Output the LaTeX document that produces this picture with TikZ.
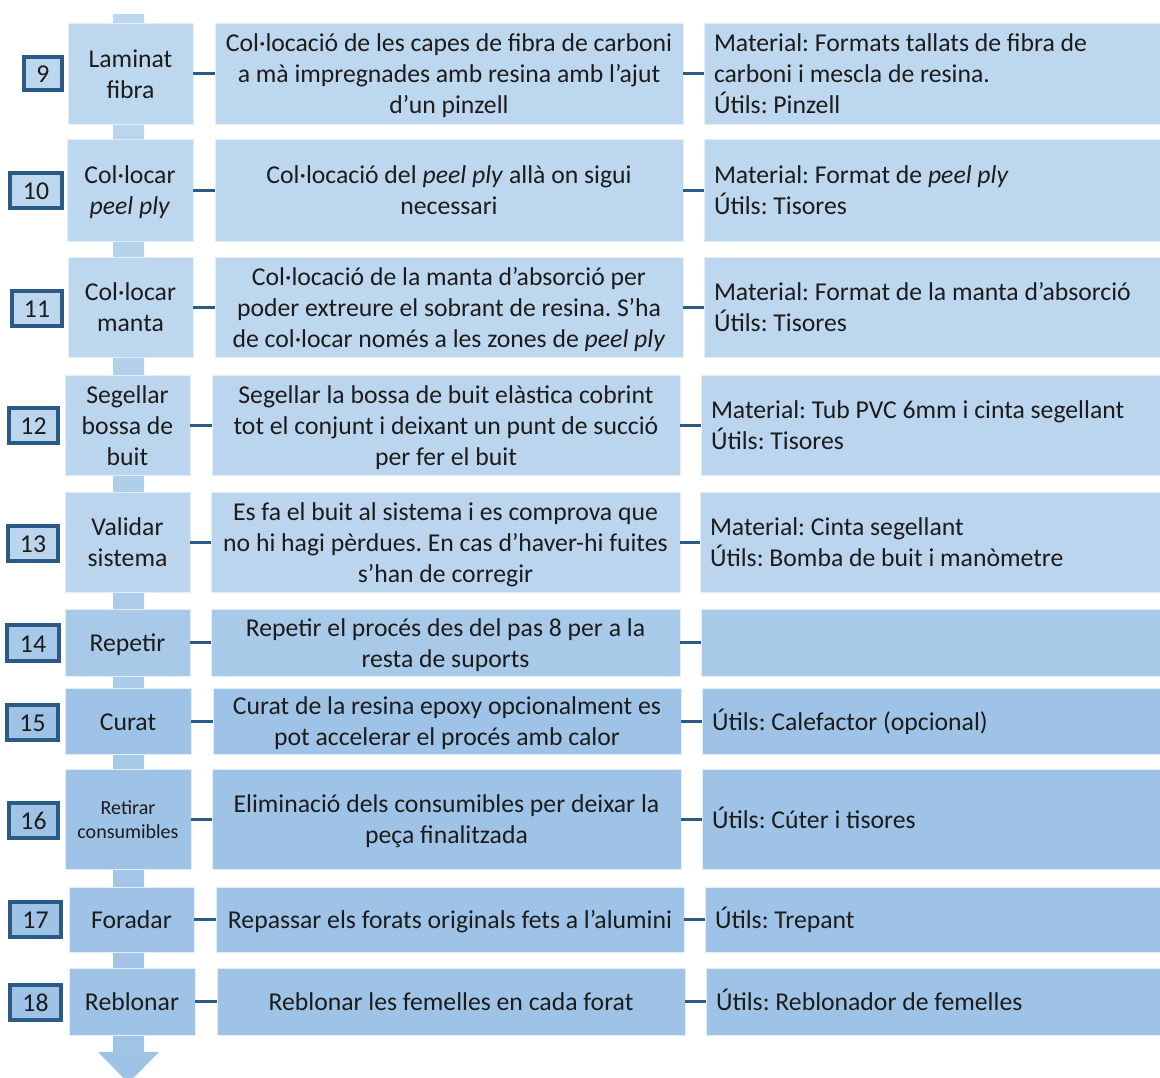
\documentclass[tikz,border=0pt]{standalone}
\usepackage{fontspec}
\setmainfont{Carlito}

\definecolor{rowA}{HTML}{BDD7EE}
\definecolor{rowB}{HTML}{BAD5ED}
\definecolor{rowC}{HTML}{A8CAE8}
\definecolor{rowD}{HTML}{9EC3E6}
\definecolor{boxedge}{HTML}{E3EEF8}
\definecolor{linkblue}{HTML}{2C5A86}
\definecolor{ink}{HTML}{1C1C1C}

\newcommand\procfont{\fontsize{25.7}{31}\selectfont\frenchspacing}
\newcommand\smallprocfont{\fontsize{20}{24}\selectfont\frenchspacing}

% text block set a little lower than its box's centre
\newcommand\textdrop{3pt}
\newcommand\clines[1]{\raisebox{-\textdrop}[\height][\depth]{\begin{tabular}{@{}c@{}}#1\end{tabular}}}
\newcommand\llines[1]{\raisebox{-\textdrop}[\height][\depth]{\begin{tabular}{@{}l@{}}#1\end{tabular}}}

% box from (x1,y1) to (x2,y2): #1 name, #2 x1, #3 y1, #4 x2, #5 y2, #6 style, #7 text
\newcommand\blk[7]{%
  \node[#6, minimum width={#4-#2}, minimum height={#5-#3}] (#1)
    at ({(#2+#4)/2},{(#3+#5)/2}) {\clines{#7}};}
% left-aligned box reaching the right margin: #1 name, #2 x1, #3 y1, #4 y2, #5 fill, #6 text
\newcommand\rblk[6]{%
  \node[box=#5, anchor=west, align=flush left, inner xsep=10pt,
        text width={1162-#2-20}, minimum height={#4-#3}] (#1)
    at (#2,{(#3+#4)/2}) {\llines{#6}};}

\begin{document}
\begin{tikzpicture}[x=1pt,y=-1pt,
  box/.style={draw=boxedge, line width=0.8pt, fill=#1, inner sep=0pt,
              outer sep=0pt, text=ink, font=\procfont},
  cbox/.style={box=#1},
  numbox/.style={draw=linkblue, line width=3.2pt, fill=#1, inner sep=0pt,
                 outer sep=0pt, text=ink, font=\procfont},
  link/.style={draw=linkblue, line width=3pt}]

\useasboundingbox (0,0) rectangle (1160,1077);

% flow arrow running behind the steps
\shade[top color=rowA, bottom color=rowD]
  (113,14) -- (144,14) -- (144,1052) -- (159,1052) -- (128.5,1083)
  -- (98,1052) -- (113,1052) -- cycle;

% step 9
\blk{n9}{24}{57}{62}{90}{numbox=rowA}{9}
\blk{l9}{68}{23}{193}{124}{cbox=rowA}{Laminat\\fibra}
\blk{m9}{215}{23}{683}{124}{cbox=rowA}{Col·locació de les capes de fibra de carboni\\a mà impregnades amb resina amb l’ajut\\d’un pinzell}
\rblk{r9}{704}{23}{124}{rowA}{Material: Formats tallats de fibra de\\carboni i mescla de resina.\\Útils: Pinzell}

% step 10
\blk{n10}{10}{173}{62}{208}{numbox=rowA}{10}
\blk{l10}{67}{139}{193}{241}{cbox=rowA}{Col·locar\\\textit{peel ply}}
\blk{m10}{215}{139}{683}{241}{cbox=rowA}{Col·locació del \textit{peel ply} allà on sigui\\necessari}
\rblk{r10}{704}{139}{241}{rowA}{Material: Format de \textit{peel ply}\\Útils: Tisores}

% step 11
\blk{n11}{12}{291}{62}{326}{numbox=rowA}{11}
\blk{l11}{68}{257}{193}{357}{cbox=rowA}{Col·locar\\manta}
\blk{m11}{215}{257}{683}{357}{cbox=rowA}{Col·locació de la manta d’absorció per\\poder extreure el sobrant de resina. S’ha\\de col·locar només a les zones de \textit{peel ply}}
\rblk{r11}{704}{257}{357}{rowA}{Material: Format de la manta d’absorció\\Útils: Tisores}

% step 12
\blk{n12}{9}{408}{58}{443}{numbox=rowB}{12}
\blk{l12}{65}{375}{190}{475}{cbox=rowB}{Segellar\\bossa de\\buit}
\blk{m12}{212}{375}{680}{475}{cbox=rowB}{Segellar la bossa de buit elàstica cobrint\\tot el conjunt i deixant un punt de succió\\per fer el buit}
\rblk{r12}{701}{375}{475}{rowB}{Material: Tub PVC 6mm i cinta segellant\\Útils: Tisores}

% step 13
\blk{n13}{8}{526}{58}{561}{numbox=rowB}{13}
\blk{l13}{65}{492}{190}{592}{cbox=rowB}{Validar\\sistema}
\blk{m13}{211}{492}{680}{592}{cbox=rowB}{Es fa el buit al sistema i es comprova que\\no hi hagi pèrdues. En cas d’haver-hi fuites\\s’han de corregir}
\rblk{r13}{700}{492}{592}{rowB}{Material: Cinta segellant\\Útils: Bomba de buit i manòmetre}

% step 14
\blk{n14}{7}{625}{59}{661}{numbox=rowC}{14}
\blk{l14}{65}{609}{190}{676}{cbox=rowC}{Repetir}
\blk{m14}{211}{609}{680}{676}{cbox=rowC}{Repetir el procés des del pas 8 per a la\\resta de suports}
\rblk{r14}{701}{609}{676}{rowC}{}

% step 15
\blk{n15}{7}{705}{58}{740}{numbox=rowD}{15}
\blk{l15}{65}{688}{191}{754}{cbox=rowD}{Curat}
\blk{m15}{213}{688}{681}{754}{cbox=rowD}{Curat de la resina epoxy opcionalment es\\pot accelerar el procés amb calor}
\rblk{r15}{702}{688}{754}{rowD}{Útils: Calefactor (opcional)}

% step 16
\blk{n16}{9}{803}{58}{838}{numbox=rowD}{16}
\blk{l16}{65}{769}{191}{869}{cbox=rowD, font=\smallprocfont}{Retirar\\consumibles}
\blk{m16}{212}{769}{681}{869}{cbox=rowD}{Eliminació dels consumibles per deixar la\\peça finalitzada}
\rblk{r16}{702}{769}{869}{rowD}{Útils: Cúter i tisores}

% step 17
\blk{n17}{10}{902}{61}{937}{numbox=rowD}{17}
\blk{l17}{69}{887}{194}{952}{cbox=rowD}{Foradar}
\blk{m17}{216}{887}{684}{952}{cbox=rowD}{Repassar els forats originals fets a l’alumini}
\rblk{r17}{705}{887}{952}{rowD}{Útils: Trepant}

% step 18
\blk{n18}{10}{985}{61}{1020}{numbox=rowD}{18}
\blk{l18}{69}{968}{195}{1035}{cbox=rowD}{Reblonar}
\blk{m18}{217}{968}{685}{1035}{cbox=rowD}{Reblonar les femelles en cada forat}
\rblk{r18}{706}{968}{1035}{rowD}{Útils: Reblonador de femelles}

% links between the columns of each step
\foreach \k in {9,...,18}{
  \draw[link] (l\k.east) -- (m\k.west);
  \draw[link] (m\k.east) -- (r\k.west);
}
\end{tikzpicture}
\end{document}
